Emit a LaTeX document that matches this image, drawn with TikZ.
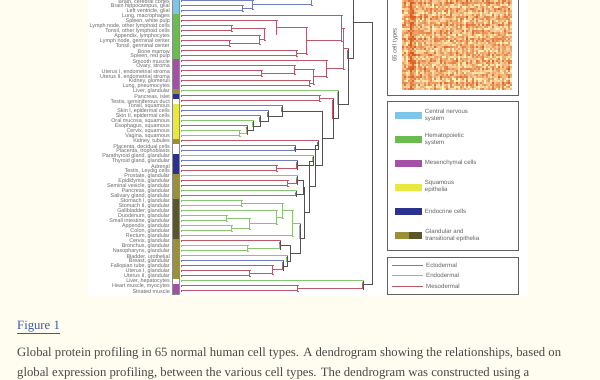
\documentclass[tikz,border=0pt]{standalone}
\usepackage{fontspec}
\setmainfont{Liberation Serif}
\setsansfont{Liberation Sans}
\usepackage{tikz}
\usetikzlibrary{positioning}

\definecolor{cream}{RGB}{255,253,240}
\definecolor{ecto}{RGB}{112,126,192}
\definecolor{endo}{RGB}{136,198,116}
\definecolor{meso}{RGB}{188,88,104}
\definecolor{mixd}{RGB}{82,82,82}
\definecolor{cns}{RGB}{124,198,234}
\definecolor{hema}{RGB}{106,188,78}
\definecolor{mes}{RGB}{164,80,166}
\definecolor{squa}{RGB}{232,232,62}
\definecolor{endc}{RGB}{44,48,142}
\definecolor{glan}{RGB}{154,144,56}
\definecolor{glad}{RGB}{90,86,44}
\definecolor{hmhi}{RGB}{222,92,30}
\definecolor{hmlo}{RGB}{255,244,190}
\definecolor{capt}{RGB}{72,72,72}
\definecolor{flink}{RGB}{58,88,170}

\tikzset{
	br/.style={line width=0.55pt, double=white, double distance=0.55pt, line cap=rect},
	ec/.style={br, draw=ecto},
	en/.style={br, draw=endo},
	me/.style={br, draw=meso},
	mx/.style={draw=mixd, line width=1pt, line cap=rect},
	lbl/.style={font=\sffamily\fontsize{5.4}{6}\selectfont, text=black!60, anchor=east, inner sep=0pt},
	legtxt/.style={font=\sffamily\fontsize{6.1}{7}\selectfont, text=black!62, align=left, anchor=west, inner sep=0pt},
	sw/.style={minimum width=27pt, minimum height=7pt, inner sep=0pt},
	swh/.style={minimum width=13.5pt, minimum height=7pt, inner sep=0pt},
	kl/.style={line width=0.6pt},
	boxc/.style={draw=black!62, line width=0.6pt},
	capt/.style={font=\fontsize{12.7}{15}\selectfont, text=capt, inner sep=0pt, anchor=base west}
}

% style, name, x, y, child a, its style, child b, its style
\newcommand\mrg[8][mx]{%
	\coordinate (#2) at (#3,#4);
	\draw[#6] (#5) -| (#2);
	\draw[#8] (#7) -| (#2);
	\draw[#1] (#5 -| #2) -- (#7 -| #2);}

\begin{document}
\begin{tikzpicture}[x=1pt, y=-1pt]
	\useasboundingbox (0,0) rectangle (600,380);
	\fill[cream] (0,0) rectangle (600,380);
	\fill[white] (88,-1) rectangle (528,296);

	\foreach \t [count=\i] in {{Brain, cerebral cortex}, {Brain hippocampus, glial}, {Left ventricle, glial},
		{Lung, macrophages}, {Spleen, white pulp}, {Lymph node, other lymphoid cells}, {Tonsil, other lymphoid cells},
		{Appendix, lymphocytes}, {Lymph node, germinal center}, {Tonsil, germinal center}, {Bone marrow},
		{Spleen, red pulp}, {Smooth muscle}, {Ovary, stroma}, {Uterus I, endometrial stroma},
		{Uterus II, endometrial stroma}, {Kidney, glomeruli}, {Lung, pneumocytes}, {Liver, glandular},
		{Pancreas, islet}, {Testis, seminiferous duct}, {Tonsil, squamous}, {Skin I, epidermal cells},
		{Skin II, epidermal cells}, {Oral mucosa, squamous}, {Esophagus, squamous}, {Cervix, squamous},
		{Vagina, squamous}, {Kidney, tubules}, {Placenta, decidual cells}, {Placenta, trophoblasts},
		{Parathyroid gland, glandular}, {Thyroid gland, glandular}, {Adrenal}, {Testis, Leydig cells},
		{Prostate, glandular}, {Epididymis, glandular}, {Seminal vesicle, glandular}, {Pancreas, glandular},
		{Salivary gland, glandular}, {Stomach I, glandular}, {Stomach II, glandular}, {Gallbladder, glandular},
		{Duodenum, glandular}, {Small intestine, glandular}, {Appendix, glandular}, {Colon, glandular},
		{Rectum, glandular}, {Cervix, glandular}, {Bronchus, glandular}, {Nasopharynx, glandular},
		{Bladder, urothelial}, {Breast, glandular}, {Fallopian tube, glandular}, {Uterus I, glandular},
		{Uterus II, glandular}, {Liver, hepatocytes}, {Heart muscle, myocytes}, {Striated muscle}}
		\node[lbl] (t\i) at (170,{5*\i-3.5}) {\t};

	\begin{scope}
		\clip (88,0) rectangle (528,296);
		\foreach \a/\b/\c in {1/3/cns, 4/12/hema, 13/18/mes, 19/19/glan, 20/20/endc, 21/21/white,
			22/28/squa, 29/29/glan, 30/31/white, 32/35/endc, 36/40/glan, 41/48/glad, 49/56/glan,
			57/57/white, 58/59/mes}
			\fill[\c] (172,{5*\a-6}) rectangle (179,{5*\b-1});
		\draw[black!45, line width=0.3pt] (172,-4) rectangle (179,294);

		\foreach \i in {1,...,59}
			\coordinate (r\i) at (182,{5*\i-4});
		\coordinate (x1) at (260,-13);
		\coordinate (x2) at (300,-28);

		\mrg[ec]{c1}{243}{9}{r2}{ec}{r3}{ec}
		\mrg[ec]{c2}{253}{5}{r1}{ec}{c1}{ec}
		\mrg[ec]{c3}{312}{-4}{x1}{ec}{c2}{ec}
		\mrg{c4}{338}{-16}{x2}{mx}{c3}{ec}

		\mrg[me]{h1}{232}{29}{r6}{me}{r7}{me}
		\mrg[me]{h2}{230}{44}{r9}{me}{r10}{me}
		\mrg[me]{h3}{260}{40}{r8}{me}{h2}{me}
		\mrg[me]{h4}{265}{34.5}{h1}{me}{h3}{me}
		\mrg[me]{h5}{277}{28}{r5}{me}{h4}{me}
		\mrg[me]{h6}{297}{54}{r11}{me}{r12}{me}
		\mrg[me]{h7}{307}{41}{h5}{me}{h6}{me}
		\mrg[me]{h8}{342}{29}{r4}{me}{h7}{me}

		\mrg[me]{m1}{262}{74}{r15}{me}{r16}{me}
		\mrg[me]{m2}{295}{70}{r14}{me}{m1}{me}
		\mrg[me]{m3}{310}{84}{r17}{me}{r18}{me}
		\mrg[me]{m4}{314}{77}{m2}{me}{m3}{me}
		\mrg[me]{m5}{327}{69}{r13}{me}{m4}{me}
		\mrg[me]{m6}{344}{49}{h8}{me}{m5}{me}

		\mrg[en]{q1}{240}{134}{r27}{en}{r28}{en}
		\mrg{q2}{247}{130}{r26}{me}{q1}{en}
		\mrg{q3}{253}{126}{r25}{en}{q2}{mx}
		\mrg{q4}{260}{121}{r24}{ec}{q3}{mx}
		\mrg{q5}{268}{116}{r23}{ec}{q4}{mx}
		\mrg{q6}{282}{111}{r22}{ec}{q5}{mx}

		\mrg[me]{d1}{320}{99}{r20}{me}{r21}{me}
		\mrg{p1}{295}{149}{r30}{me}{r31}{ec}
		\mrg{p2}{318}{145}{r29}{me}{p1}{mx}
		\mrg[me]{e1}{277}{169}{r34}{me}{r35}{me}
		\mrg{e2}{297}{165}{r33}{ec}{e1}{me}
		\mrg{e3}{313}{161}{r32}{en}{e2}{mx}

		\mrg[me]{a1}{288}{184}{r37}{me}{r38}{me}
		\mrg{a2}{297}{180}{r36}{en}{a1}{me}
		\mrg{a3}{296}{194}{r39}{en}{r40}{ec}
		\mrg{a4}{303}{187}{a2}{mx}{a3}{mx}

		\mrg[en]{g1}{242}{204}{r41}{en}{r42}{en}
		\mrg[en]{g2}{227}{219}{r44}{en}{r45}{en}
		\mrg[en]{g3}{232}{229}{r46}{en}{r47}{en}
		\mrg[en]{g4}{250}{224}{g2}{en}{g3}{en}
		\mrg[en]{g5}{277}{218}{r43}{en}{g4}{en}
		\mrg[en]{g6}{283}{211}{g1}{en}{g5}{en}
		\mrg[en]{g7}{293}{224}{g6}{en}{r48}{en}

		\mrg[en]{l1}{248}{249}{r50}{en}{r51}{en}
		\mrg{l2}{280}{245}{r49}{me}{l1}{en}
		\mrg[me]{l3}{250}{274}{r55}{me}{r56}{me}
		\mrg[me]{l4}{273}{270}{r54}{me}{l3}{me}
		\mrg{l5}{283}{266}{r53}{ec}{l4}{me}
		\mrg{l6}{287}{261}{r52}{en}{l5}{mx}
		\mrg{l7}{290}{253}{l2}{mx}{l6}{mx}

		\mrg{s1}{300}{238}{g7}{en}{l7}{mx}
		\mrg{s2}{304}{212}{a4}{mx}{s1}{mx}
		\mrg{s3}{309}{186}{e3}{mx}{s2}{mx}
		\mrg{s4}{315}{165}{p2}{mx}{s3}{mx}
		\mrg{s5}{322}{138}{q6}{mx}{s4}{mx}
		\mrg{s6}{333}{118}{d1}{me}{s5}{mx}
		\mrg{s7}{338}{104}{r19}{en}{s6}{mx}
		\mrg{s8}{348}{58}{m6}{me}{s7}{mx}
		\mrg{t1}{353}{22}{c4}{mx}{s8}{mx}

		\mrg[me]{b1}{298}{289}{r58}{me}{r59}{me}
		\mrg{b2}{363}{284}{r57}{en}{b1}{me}
		\mrg{rt}{372}{150}{t1}{mx}{b2}{mx}
	\end{scope}

	\begin{scope}
		\clip (402,0) rectangle (512,90);
		\pgfmathsetseed{12}
		\foreach \i in {0,...,54} {
			\foreach \j in {0,...,44} {
				\pgfmathtruncatemacro\v{max(0,min(100,42+14*sin(\i*137.5)+14*sin(\j*97.3+20)+70*rnd-35+45*(\i==4)+45*(\i==5)))}
				\fill[hmhi!\v!hmlo] ({402+2*\i},{2*\j}) rectangle ++(2.1,2.1);
			}
		}
	\end{scope}
	\draw[boxc] (387,-5) rectangle (518,95);
	\node[legtxt, rotate=90, anchor=center] (ct) at (395,45) {65 cell types};

	\draw[boxc] (387,101) rectangle (518,250);
	\node[sw, fill=cns] (k1) at (408.5,115) {};
	\node[legtxt, right=2.5pt of k1] (k1t) {Central nervous\\system};
	\node[sw, fill=hema] (k2) at (408.5,139) {};
	\node[legtxt, right=2.5pt of k2] (k2t) {Hematopoietic\\system};
	\node[sw, fill=mes] (k3) at (408.5,163) {};
	\node[legtxt, right=2.5pt of k3] (k3t) {Mesenchymal cells};
	\node[sw, fill=squa] (k4) at (408.5,187) {};
	\node[legtxt, right=2.5pt of k4] (k4t) {Squamous\\epithelia};
	\node[sw, fill=endc] (k5) at (408.5,211) {};
	\node[legtxt, right=2.5pt of k5] (k5t) {Endocrine cells};
	\node[swh, fill=glan] (k6a) at (401.75,235) {};
	\node[swh, fill=glad, right=0pt of k6a] (k6b) {};
	\node[legtxt, right=2.5pt of k6b] (k6t) {Glandular and\\transitional epithelia};

	\draw[boxc] (387,257) rectangle (518,294);
	\node[legtxt] (n1) at (426,265) {Ectodermal};
	\node[legtxt] (n2) at (426,275.5) {Endodermal};
	\node[legtxt] (n3) at (426,286) {Mesodermal};
	\foreach \n/\c in {n1/ecto, n2/endo, n3/meso} {
		\coordinate[left=3pt of \n] (\n r);
		\coordinate[left=34pt of \n] (\n l);
		\draw[kl, \c] (\n l) -- (\n r);
	}

	\node[capt, text=flink] (fig) at (17,329) {\underline{Figure 1}};
	\node[capt] (cap1) at (17,356.5) {Global protein profiling in 65 normal human cell types. A dendrogram showing the relationships, based on};
	\node[capt] (cap2) at (17,376.5) {global expression profiling, between the various cell types. The dendrogram was constructed using a};
\end{tikzpicture}
\end{document}
